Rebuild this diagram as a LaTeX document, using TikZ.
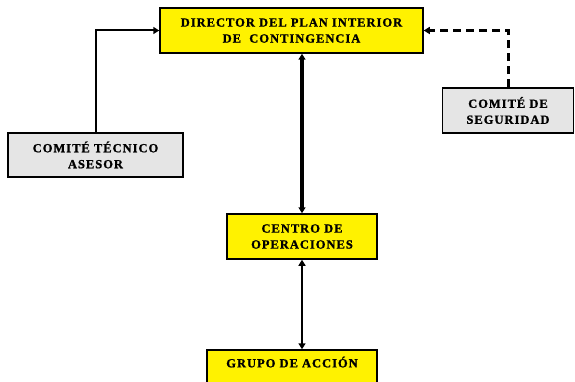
\documentclass[tikz,border=0pt]{standalone}
\usepackage{fontspec}
\setmainfont{Liberation Serif}
\usetikzlibrary{arrows.meta}

\begin{document}
\begin{tikzpicture}[x=1pt,y=-1pt,%
  every node/.style={font=\fontsize{12.5}{16}\selectfont\bfseries\addfontfeatures{LetterSpace=8,FakeBold=1.2},%
  align=center,draw=black,line width=1.5pt,inner sep=0pt},%
  mando/.style={fill=yellow},%
  comite/.style={fill=black!10},%
  link/.style={line width=2pt,-{Triangle[length=6pt,width=7pt]}},%
  both/.style={{Triangle[length=6pt,width=7pt]}-{Triangle[length=6pt,width=7pt]}}]

  \clip (0,0) rectangle (575,382);
  \node [mando,minimum width=263pt,minimum height=45pt] (director) at (291.5,30.5)
    {DIRECTOR DEL PLAN INTERIOR\\DE~~CONTINGENCIA};
  \node [comite,minimum width=175pt,minimum height=44pt] (tecnico) at (95.5,155)
    {COMITÉ TÉCNICO\\ASESOR};
  \node [comite,minimum width=131pt,minimum height=45pt] (seguridad) at (508,110.5)
    {COMITÉ DE\\SEGURIDAD};
  \node [mando,minimum width=150pt,minimum height=45pt] (centro) at (302,236.5)
    {CENTRO DE\\OPERACIONES};
  \node [mando,minimum width=170pt,minimum height=44pt,text depth=20pt] (grupo) at (292,372)
    {GRUPO DE ACCIÓN};

  \draw [link] (tecnico.north) |- (director.west);
  \draw [link,line width=3pt,dash pattern=on 8pt off 5pt] (seguridad.north) |- (director.east);
  \draw [link,line width=3.2pt,both] (director.south -| centro.north) -- (centro.north);
  \draw [link,line width=2.6pt,both] (centro.south) -- (grupo.north -| centro.south);
\end{tikzpicture}
\end{document}
